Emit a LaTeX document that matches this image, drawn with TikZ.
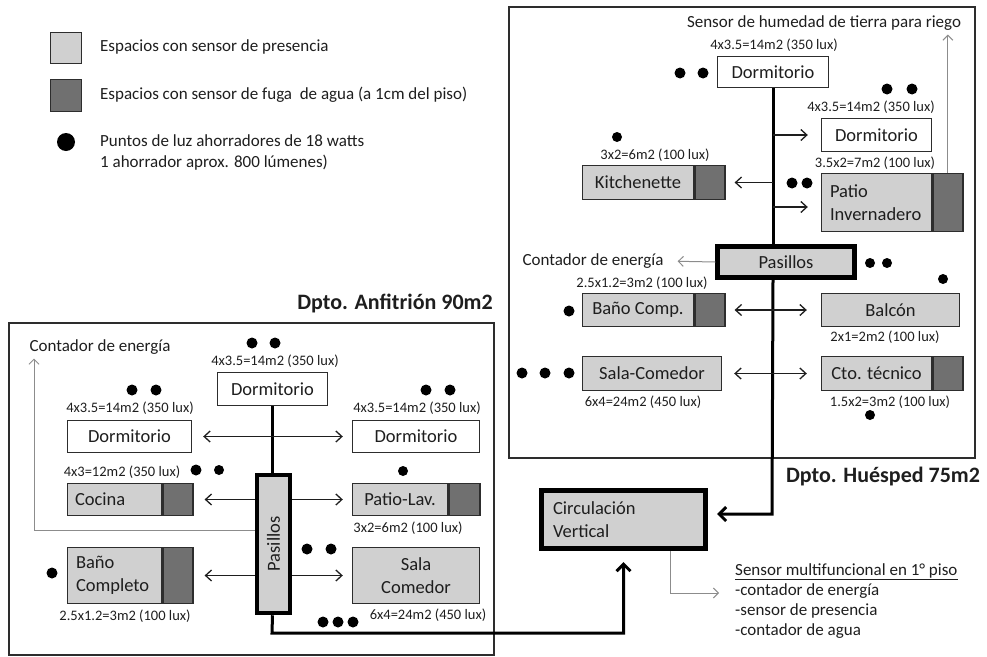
\documentclass[tikz,border=0pt]{standalone}
\usepackage{fontspec}
\setmainfont{Carlito}
\usepackage{graphicx}
\usetikzlibrary{arrows.meta,calc}
\definecolor{lightfill}{RGB}{208,208,208}
\definecolor{darkfill}{RGB}{112,112,112}
\definecolor{edge}{RGB}{45,45,45}
\definecolor{ink}{RGB}{30,30,30}
\definecolor{faint}{RGB}{140,140,140}
\newcommand{\lblfont}{\fontsize{14.5}{16}\selectfont}
\newcommand{\roomfont}{\fontsize{18.5}{23}\selectfont}
\newcommand{\notefont}{\fontsize{17}{20}\selectfont}
\newcommand{\titlefont}{\fontsize{22}{26}\selectfont\bfseries}
\tikzset{
  barb/.tip={Straight Barb[length=6pt,width=11pt]},
  bigbarb/.tip={Straight Barb[length=7pt,width=14pt]},
  room/.style={draw=edge, line width=1.4pt, fill=lightfill, inner sep=0pt, font=\roomfont, text=ink},
  bare/.style={room, fill=white},
  leak/.style={draw=edge, line width=1.4pt, fill=darkfill, inner sep=0pt, anchor=west},
  hall/.style={draw=black, line width=4.5pt, fill=lightfill, inner sep=0pt, font=\roomfont, text=ink},
  dept/.style={draw=edge, line width=2pt},
  lbl/.style={font=\lblfont, inner sep=0pt, text=ink},
  note/.style={font=\notefont, inner sep=0pt, text=ink},
  flow/.style={line width=1.3pt, draw=ink},
  both/.style={flow, barb-barb},
  one/.style={flow, -barb},
  spine/.style={line width=3pt, draw=black},
  sense/.style={line width=1pt, draw=faint, -{Straight Barb[length=5pt,width=10pt]}},
  lamp/.style={fill=black},
}
\begin{document}
\begin{tikzpicture}[x=1pt,y=-1pt]
\useasboundingbox (0,0) rectangle (987,656);

% ---------- legend ----------
\node[room, minimum width=31pt, minimum height=31pt] (legP) at (66,48) {};
\node[leak, anchor=center, minimum width=31pt, minimum height=32pt] (legW) at (66,95.5) {};
\fill[lamp] (66,142) circle[radius=9pt];
\node[note, anchor=west] (legPt) at (100,47) {Espacios con sensor de presencia};
\node[note, anchor=west] (legWt) at (100,95) {Espacios con sensor de fuga\ \ de agua (a 1cm del piso)};
\node[note, anchor=west, align=left, font=\fontsize{17}{21}\selectfont] (legLt) at (100,152.5)
  {Puntos de luz ahorradores de 18 watts\\1 ahorrador aprox. 800 lúmenes)};

% ---------- apartment frames ----------
\draw[dept] (9,323) rectangle (494,655);
\draw[dept] (509,7) rectangle (975,458);
\node[font=\titlefont, text=ink, inner sep=0pt] (titA) at (395,303) {Dpto. Anfitrión 90m2};
\node[font=\titlefont, text=ink, inner sep=0pt] (titB) at (883,477) {Dpto. Huésped 75m2};

% ---------- guest apartment ----------
\node[note] (humid) at (824,23) {Sensor de humedad de tierra para riego};
\node[bare, minimum width=111pt, minimum height=31pt] (dormA) at (773,72) {Dormitorio};
\node[lbl] at (774,45) {4x3.5=14m2 (350 lux)};
\fill[lamp] (680,73) circle[radius=5.5pt] (703,73) circle[radius=5.5pt];

\node[bare, minimum width=110pt, minimum height=33pt] (dormB) at (876.5,135) {Dormitorio};
\node[lbl] at (871,107) {4x3.5=14m2 (350 lux)};
\fill[lamp] (887,89) circle[radius=5.5pt] (912,89) circle[radius=5.5pt];

\node[room, minimum width=111pt, minimum height=34pt] (kit) at (638,182.5) {Kitchenette};
\node[leak, minimum width=30pt, minimum height=34pt] (kitD) at (kit.east) {};
\node[lbl] at (655,155) {3x2=6m2 (100 lux)};
\fill[lamp] (617,137) circle[radius=5pt];

\node[room, minimum width=110pt, minimum height=58pt, text width=93pt, align=left] (patio) at (876.5,202.5) {Patio\\Invernadero};
\node[leak, minimum width=30pt, minimum height=58pt] (patD) at (patio.east) {};
\node[lbl] at (875,163) {3.5x2=7m2 (100 lux)};
\fill[lamp] (792,183) circle[radius=5.5pt] (807,183) circle[radius=5.5pt];

\node[hall, minimum width=137pt, minimum height=31pt] (hallB) at (786,262) {Pasillos};
\node[note] (contB) at (593,261) {Contador de energía};
\fill[lamp] (870,263) circle[radius=5pt] (887,263) circle[radius=5pt] (943,279) circle[radius=5pt];

\node[room, minimum width=111pt, minimum height=33pt] (bano) at (638,310) {Baño Comp.};
\node[leak, minimum width=30pt, minimum height=33pt] (banoD) at (bano.east) {};
\node[lbl] at (642,283) {2.5x1.2=3m2 (100 lux)};
\fill[lamp] (569,311) circle[radius=5.5pt];

\node[room, minimum width=138pt, minimum height=33pt] (balcon) at (890.5,310) {Balcón};
\node[lbl] at (885,337) {2x1=2m2 (100 lux)};

\node[room, minimum width=139pt, minimum height=34pt] (sala) at (652,373.5) {Sala-Comedor};
\node[lbl] at (643,402) {6x4=24m2 (450 lux)};
\fill[lamp] (522,373) circle[radius=5.5pt] (545,373) circle[radius=5.5pt] (569,373) circle[radius=5.5pt];

\node[room, minimum width=110pt, minimum height=34pt] (cto) at (876.5,373.5) {Cto. técnico};
\node[leak, minimum width=30pt, minimum height=34pt] (ctoD) at (cto.east) {};
\node[lbl] at (890,402) {1.5x2=3m2 (100 lux)};
\fill[lamp] (870,415) circle[radius=5pt];

% ---------- host apartment ----------
\node[note] (contA) at (100,347) {Contador de energía};
\node[bare, minimum width=110pt, minimum height=33pt] (dormT) at (272.5,389) {Dormitorio};
\node[lbl] at (275,361) {4x3.5=14m2 (350 lux)};
\fill[lamp] (252,343) circle[radius=5.5pt] (275,343) circle[radius=5.5pt];

\node[bare, minimum width=124pt, minimum height=32pt] (dormL) at (129.5,436.5) {Dormitorio};
\node[lbl] at (130,408) {4x3.5=14m2 (350 lux)};
\fill[lamp] (132,390) circle[radius=5.5pt] (156,390) circle[radius=5.5pt];

\node[bare, minimum width=127pt, minimum height=32pt] (dormR) at (416,436.5) {Dormitorio};
\node[lbl] at (417,408) {4x3.5=14m2 (350 lux)};
\fill[lamp] (426,390) circle[radius=5.5pt] (450,390) circle[radius=5.5pt];

\node[room, minimum width=94pt, minimum height=32pt, text width=79pt, align=left] (coc) at (114.5,499.5) {Cocina};
\node[leak, minimum width=30pt, minimum height=32pt] (cocD) at (coc.east) {};
\node[lbl] at (122,472) {4x3=12m2 (350 lux)};
\fill[lamp] (196,470) circle[radius=5.5pt] (219,470) circle[radius=5pt];

\node[room, minimum width=95pt, minimum height=32pt] (pl) at (400,499.5) {Patio-Lav.};
\node[leak, minimum width=31pt, minimum height=32pt] (plD) at (pl.east) {};
\node[lbl] at (408,528) {3x2=6m2 (100 lux)};
\fill[lamp] (403,471) circle[radius=5pt];

\node[hall, minimum width=33pt, minimum height=138pt] (hallA) at (273.5,544) {\rotatebox{90}{Pasillos}};

\node[room, minimum width=94pt, minimum height=56pt, text width=77pt, align=left] (bc) at (114.5,575.5) {Baño\\Completo};
\node[leak, minimum width=30pt, minimum height=56pt] (bcD) at (bc.east) {};
\node[lbl] at (125,616) {2.5x1.2=3m2 (100 lux)};
\fill[lamp] (52,573) circle[radius=5.5pt];

\node[room, minimum width=127pt, minimum height=56pt, align=center] (sc) at (416,575.5) {Sala\\Comedor};
\node[lbl] at (428,615) {6x4=24m2 (450 lux)};
\fill[lamp] (307,549) circle[radius=5.5pt] (331,549) circle[radius=5.5pt];
\fill[lamp] (323,622) circle[radius=5.5pt] (338,622) circle[radius=5.5pt] (353,622) circle[radius=5.5pt];

% ---------- vertical circulation ----------
\node[hall, line width=5pt, minimum width=164pt, minimum height=58pt, text width=141pt, align=left] (circ) at (623.5,519.5) {Circulación\\Vertical};
\node[note, anchor=west, align=left] (multi) at (735,601)
  {\underline{Sensor multifuncional en 1° piso}\\-contador de energía\\-sensor de presencia\\-contador de agua};

% ---------- main corridors ----------
\coordinate (turnB) at (772,514);
\coordinate (turnA) at (272,633);
\draw[spine] (dormA.south) -- (dormA.south |- hallB.north);
\draw[spine, -bigbarb, shorten >=9pt] (dormA.south |- hallB.south) -- (turnB) -- (circ.east |- turnB);
\draw[spine] (dormT.south) -- (dormT.south |- hallA.north);
\draw[spine, -bigbarb, shorten >=11pt] (dormT.south |- hallA.south) -- (turnA) -- (circ.south |- turnA) -- (circ.south);

% ---------- room links, guest ----------
\coordinate (pArr) at ($(patio.west)+(0,4.5)$);
\draw[one, shorten >=13pt] (dormA.south |- dormB.west) -- (dormB.west);
\draw[one, shorten >=9pt] (dormA.south |- kitD.east) -- (kitD.east);
\draw[one, shorten >=13pt] (dormA.south |- pArr) -- (pArr);
\draw[both, shorten <=9pt, shorten >=14pt] (banoD.east) -- (balcon.west);
\draw[both, shorten <=12pt, shorten >=14pt] (sala.east) -- (cto.west);

% ---------- room links, host ----------
\draw[both, shorten <=11pt, shorten >=9pt] (dormL.east) -- (dormR.west);
\draw[one, shorten >=11pt] (hallA.west |- cocD.east) -- (cocD.east);
\draw[one, shorten >=9pt] (hallA.east |- pl.west) -- (pl.west);
\draw[one, shorten >=11pt] (hallA.west |- bcD.east) -- (bcD.east);
\draw[one, shorten >=9pt] (hallA.east |- sc.west) -- (sc.west);

% ---------- sensor leads ----------
\coordinate (gA) at (34,530);
\coordinate (gC) at (670,593);
\draw[sense, shorten >=14pt] (hallB.west) -- (contB.east);
\draw[sense, shorten >=4pt] (patD.north) -- (patD.north |- humid.south);
\draw[sense, shorten >=4pt] (hallA.west |- gA) -- (gA) -- (gA |- contA.south);
\draw[sense, shorten >=16pt] (gC |- circ.south) -- (gC) -- (gC -| multi.west);
\end{tikzpicture}
\end{document}
